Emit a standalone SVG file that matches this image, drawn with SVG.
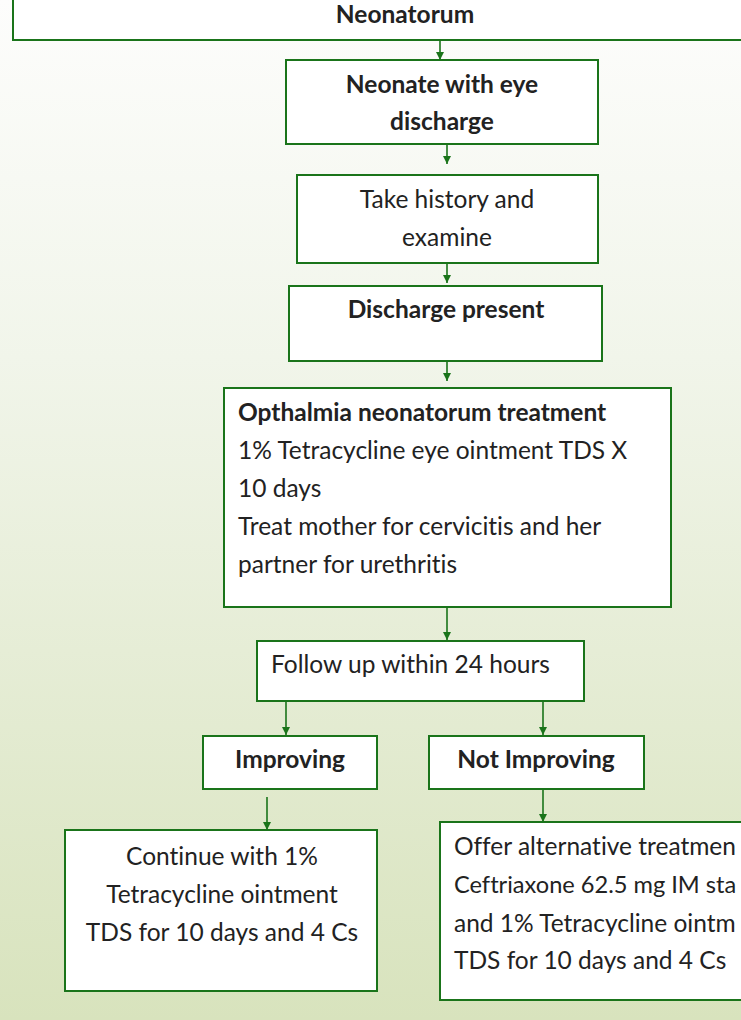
<svg xmlns="http://www.w3.org/2000/svg" width="741" height="1020" viewBox="0 0 741 1020">
<defs>
<linearGradient id="bg" x1="0" y1="0" x2="0" y2="1">
<stop offset="0" stop-color="#fdfdfc"/>
<stop offset="0.35" stop-color="#f1f5ea"/>
<stop offset="1" stop-color="#d8e3bd"/>
</linearGradient>
<marker id="ah" viewBox="0 0 10 10" refX="10" refY="5" markerWidth="8" markerHeight="8" markerUnits="userSpaceOnUse" orient="auto">
<path d="M0,0 L10,5 L0,10 z" fill="#1a741a"/>
</marker>
<style>
.box{fill:#ffffff;stroke:#1a741a;stroke-width:2}
.t{font-family:Lato,"Liberation Sans",sans-serif;font-size:24.5px;fill:#222222;font-variant-ligatures:none}
.b{font-weight:bold}
.c{text-anchor:middle}
.con{stroke:#1a741a;stroke-width:1.6;fill:none;marker-end:url(#ah)}
</style>
</defs>
<rect x="0" y="0" width="741" height="1020" fill="url(#bg)"/>

<g id="connectors">
<line class="con" x1="440" y1="40" x2="440" y2="60"/>
<line class="con" x1="447" y1="145" x2="447" y2="164"/>
<line class="con" x1="447" y1="263" x2="447" y2="283"/>
<line class="con" x1="447" y1="361" x2="447" y2="381"/>
<line class="con" x1="447" y1="607" x2="447" y2="640"/>
<line class="con" x1="286" y1="701" x2="286" y2="735"/>
<line class="con" x1="543" y1="701" x2="543" y2="735"/>
<line class="con" x1="267" y1="797" x2="267" y2="830"/>
<line class="con" x1="543" y1="789" x2="543" y2="822"/>
</g>

<g id="n-top">
<rect class="box" x="13" y="-10" width="740" height="50"/>
<text class="t b c" x="405" y="23">Neonatorum</text>
</g>

<g id="n-neonate">
<rect class="box" x="286" y="60" width="312" height="84"/>
<text class="t b c" x="442" y="93">Neonate with eye</text>
<text class="t b c" x="442" y="130">discharge</text>
</g>

<g id="n-history">
<rect class="box" x="297" y="175" width="301" height="88"/>
<text class="t c" x="447" y="208">Take history and</text>
<text class="t c" x="447" y="246">examine</text>
</g>

<g id="n-discharge">
<rect class="box" x="289" y="286" width="313" height="75"/>
<text class="t b c" x="446" y="318">Discharge present</text>
</g>

<g id="n-treatment">
<rect class="box" x="224" y="388" width="447" height="219"/>
<text class="t b" x="238" y="421">Opthalmia neonatorum treatment</text>
<text class="t" x="238" y="459">1% Tetracycline eye ointment TDS X</text>
<text class="t" x="238" y="497">10 days</text>
<text class="t" x="238" y="535">Treat mother for cervicitis and her</text>
<text class="t" x="238" y="573">partner for urethritis</text>
</g>

<g id="n-followup">
<rect class="box" x="257" y="641" width="327" height="60"/>
<text class="t" x="271" y="673">Follow up within 24 hours</text>
</g>

<g id="n-improving">
<rect class="box" x="203" y="736" width="174" height="53"/>
<text class="t b c" x="290" y="768">Improving</text>
</g>

<g id="n-notimproving">
<rect class="box" x="429" y="736" width="215" height="53"/>
<text class="t b c" x="536" y="768">Not Improving</text>
</g>

<g id="n-continue">
<rect class="box" x="65" y="830" width="312" height="161"/>
<text class="t c" x="222" y="865">Continue with 1%</text>
<text class="t c" x="222" y="903">Tetracycline ointment</text>
<text class="t c" x="222" y="941">TDS for 10 days and 4 Cs</text>
</g>

<g id="n-offer">
<rect class="box" x="440" y="822" width="320" height="178"/>
<text class="t" x="454" y="855">Offer alternative treatmen</text>
<text class="t" x="454" y="893" style="font-size:23.6px">Ceftriaxone 62.5 mg IM sta</text>
<text class="t" x="454" y="932">and 1% Tetracycline ointm</text>
<text class="t" x="454" y="969">TDS for 10 days and 4 Cs</text>
</g>
</svg>
